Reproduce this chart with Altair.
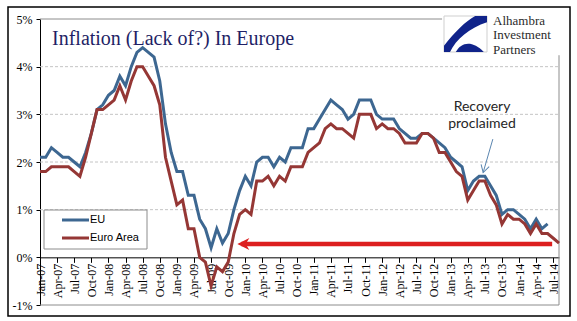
import json
import altair as alt
import pandas as pd

# ---------------- data ----------------
tick_labels = ["Jan-07", "Apr-07", "Jul-07", "Oct-07", "Jan-08", "Apr-08", "Jul-08", "Oct-08",
               "Jan-09", "Apr-09", "Jul-09", "Oct-09", "Jan-10", "Apr-10", "Jul-10", "Oct-10",
               "Jan-11", "Apr-11", "Jul-11", "Oct-11", "Jan-12", "Apr-12", "Jul-12", "Oct-12",
               "Jan-13", "Apr-13", "Jul-13", "Oct-13", "Jan-14", "Apr-14", "Jul-14"]

# monthly values, Jan-07 .. Aug-14
eu = [2.1, 2.1, 2.3, 2.2, 2.1, 2.1, 2.0, 1.9, 2.2, 2.6, 3.1, 3.2,
      3.4, 3.5, 3.8, 3.6, 4.0, 4.3, 4.4, 4.3, 4.2, 3.7, 2.8, 2.2,
      1.8, 1.8, 1.3, 1.3, 0.8, 0.6, 0.2, 0.6, 0.3, 0.5, 1.0, 1.4,
      1.7, 1.5, 2.0, 2.1, 2.1, 1.9, 2.1, 2.0, 2.3, 2.3, 2.3, 2.7,
      2.7, 2.9, 3.1, 3.3, 3.2, 3.1, 2.9, 3.0, 3.3, 3.3, 3.3, 3.0,
      2.9, 2.9, 2.9, 2.7, 2.6, 2.5, 2.5, 2.6, 2.6, 2.5, 2.4, 2.3,
      2.1, 2.0, 1.9, 1.4, 1.6, 1.7, 1.7, 1.5, 1.3, 0.9, 1.0, 1.0,
      0.9, 0.8, 0.6, 0.8, 0.6, 0.7, None, None]
euro_area = [1.8, 1.8, 1.9, 1.9, 1.9, 1.9, 1.8, 1.7, 2.1, 2.6, 3.1, 3.1,
             3.2, 3.3, 3.6, 3.3, 3.7, 4.0, 4.0, 3.8, 3.6, 3.2, 2.1, 1.6,
             1.1, 1.2, 0.6, 0.6, 0.0, -0.1, -0.6, -0.2, -0.3, -0.1, 0.5, 0.9,
             1.0, 0.9, 1.6, 1.6, 1.7, 1.5, 1.7, 1.6, 1.9, 1.9, 1.9, 2.2,
             2.3, 2.4, 2.7, 2.8, 2.7, 2.7, 2.6, 2.5, 3.0, 3.0, 3.0, 2.7,
             2.8, 2.7, 2.7, 2.6, 2.4, 2.4, 2.4, 2.6, 2.6, 2.5, 2.2, 2.2,
             2.0, 1.8, 1.7, 1.2, 1.4, 1.6, 1.6, 1.3, 1.1, 0.7, 0.9, 0.8,
             0.8, 0.7, 0.5, 0.7, 0.5, 0.5, 0.4, 0.3]
series_names = ["EU", "Euro Area"]
series_colors = ["#3d6791", "#953735"]
y_ticks = [-1, 0, 1, 2, 3, 4, 5]
grid_values = [1, 2, 3, 4]

# annotations (in data units: month index, percent)
red_arrow = {"x": 35.3, "x2": 89.8, "y": 0.28, "tip": 34.6}
recovery_text = ["Recovery", "proclaimed"]
recovery_pos = {"x": 77.5, "y": [3.07, 2.71]}
recovery_arrow = {"x": 79.4, "y": 2.48, "x2": 77.7, "y2": 1.78}
logo_lines = ["Alhambra", "Investment", "Partners"]

rows = []
for name, vals in zip(series_names, [eu, euro_area]):
    for i, v in enumerate(vals):
        rows.append({"m": i, "series": name, "value": v})
df = pd.DataFrame(rows)
n_months = len(euro_area) - 1  # 91 intervals

W, H = 519, 286
SERIF = "Liberation Serif"
SANS = "Liberation Sans"

xs = alt.Scale(domain=[0, n_months], nice=False, zero=False)
ys = alt.Scale(domain=[-1, 5], nice=False, zero=False)
color_scale = alt.Scale(domain=series_names, range=series_colors)

label_expr = json.dumps(tick_labels) + "[round(datum.value/3)]"
x_axis = alt.Axis(values=list(range(0, 91, 3)), labelExpr=label_expr, labelAngle=-90,
                  offset=-(H / 6.0), grid=False, domainColor="#000", tickColor="#000",
                  tickSize=5, labelPadding=1, labelFont=SERIF, labelFontSize=12,
                  labelColor="#000", title=None, labelOverlap=False, labelBound=False,
                  labelFlush=False)
y_axis = alt.Axis(values=y_ticks, labelExpr="datum.value + '%'", grid=False,
                  domainColor="#000", tickColor="#000", tickSize=4, labelPadding=4,
                  labelFont=SERIF, labelFontSize=12, labelColor="#000", title=None,
                  labelFlush=False)


def X(field):
    return alt.X(field, scale=xs, axis=x_axis)


def Y(field):
    return alt.Y(field, scale=ys, axis=y_axis)


one = pd.DataFrame({"a": [0]})

# frame & grid
frame = pd.DataFrame([
    {"x": 0, "x2": 70.5, "y": 5, "y2": 5},
    {"x": 0, "x2": n_months, "y": -1, "y2": -1},
    {"x": n_months, "x2": n_months, "y": -1, "y2": 4.24},
])
frame_layer = alt.Chart(frame).mark_rule(color="#8c8c8c", strokeWidth=1).encode(
    x=X("x:Q"), x2="x2:Q", y=Y("y:Q"), y2="y2:Q")
grid_layer = alt.Chart(pd.DataFrame({"y": grid_values, "x": 0, "x2": n_months})).mark_rule(
    color="#c4c4c4", strokeDash=[3, 2], strokeWidth=1).encode(
    x=X("x:Q"), x2="x2:Q", y=Y("y:Q"))

lines = alt.Chart(df).mark_line(strokeWidth=3).encode(
    x=X("m:Q"), y=Y("value:Q"),
    color=alt.Color("series:N", scale=color_scale, legend=None),
    detail="series:N")

# red arrow
ra = pd.DataFrame([red_arrow])
red_line = alt.Chart(ra).mark_rule(color="#dd1f1f", strokeWidth=4.5).encode(
    x=X("x:Q"), x2="x2:Q", y=Y("y:Q"))
red_head = alt.Chart(ra).mark_point(shape="M0,0 L2,-1 L1.4,0 L2,1 Z", filled=True,
                                    color="#dd1f1f", opacity=1, size=144).encode(
    x=X("tip:Q"), y=Y("y:Q"))

# recovery annotation
rt = pd.DataFrame({"t": recovery_text, "x": [recovery_pos["x"]] * 2, "y": recovery_pos["y"]})
rec_text = alt.Chart(rt).mark_text(font="Lato", fontSize=14, color="#262626",
                                   align="center", baseline="alphabetic").encode(
    x=X("x:Q"), y=Y("y:Q"), text="t:N")
rec = pd.DataFrame([recovery_arrow])
rec_line = alt.Chart(rec).mark_rule(color="#5b86b0", strokeWidth=1).encode(
    x=X("x:Q"), x2="x2:Q", y=Y("y:Q"), y2="y2:Q")
rec_head = alt.Chart(rec).mark_point(shape="M-0.7,-1.2 L0,0 L0.7,-1.2", filled=False,
                                     color="#5b86b0", strokeWidth=1, opacity=1, size=144,
                                     angle=16).encode(
    x=X("x2:Q"), y=Y("y2:Q"))

# legend (box + entries), in pixels
leg_box = alt.Chart(one).mark_rect(fill="white", stroke="#8c8c8c", strokeWidth=1).encode(
    x=alt.value(4), x2=alt.value(107), y=alt.value(191), y2=alt.value(230))
legend_layers = [leg_box]
for name, col, ypx in zip(series_names, series_colors, [201, 219]):
    legend_layers.append(alt.Chart(one).mark_rule(strokeWidth=3, color=col).encode(
        x=alt.value(22), x2=alt.value(49), y=alt.value(ypx)))
    legend_layers.append(alt.Chart(one).mark_text(
        font=SANS, fontSize=11, color="#000", align="left", baseline="middle", text=name).encode(
        x=alt.value(50), y=alt.value(ypx)))

# title
title = alt.Chart(one).mark_text(
    font=SERIF, fontSize=20, color="#1f1f66", align="left", baseline="alphabetic",
    text="Inflation (Lack of?) In Europe").encode(x=alt.value(12), y=alt.value(26))

# logo
logo_layers = [
    alt.Chart(one).mark_rect(fill="white", stroke="#cfcfcf", strokeWidth=1).encode(
        x=alt.value(404), x2=alt.value(447), y=alt.value(-3), y2=alt.value(33)),
    alt.Chart(one).mark_point(
        shape="M0.45,-0.84 L1,-0.84 L1,-0.55 C0.2,-0.3 -0.45,0.25 -0.72,0.84 L-1,0.84 L-1,0.55 C-0.5,-0.1 0,-0.6 0.45,-0.84 Z",
        filled=True, color="#10238a", opacity=1, size=1849).encode(x=alt.value(425.5), y=alt.value(15)),
    alt.Chart(one).mark_point(
        shape="M-0.45,0.84 C-0.2,0.35 0.35,0.3 0.85,0.84 Z",
        filled=True, color="#10238a", opacity=1, size=1849).encode(x=alt.value(425.5), y=alt.value(15)),
    alt.Chart(one).mark_text(
        font=SERIF, fontSize=13, color="#2b2b2b", align="left", baseline="alphabetic",
        text=logo_lines, lineHeight=14.5).encode(x=alt.value(453), y=alt.value(5.5)),
]

border = alt.Chart(one).mark_rect(fill=None, stroke="#000", strokeWidth=1.5).encode(
    x=alt.value(-32), x2=alt.value(530), y=alt.value(-12), y2=alt.value(297))

chart = alt.layer(
    grid_layer, frame_layer, lines, red_line, red_head, rec_line, rec_head, rec_text,
    *legend_layers, title, *logo_layers, border
).properties(
    width=W, height=H,
    autosize=alt.AutoSizeParams(type="none"),
    padding={"left": 40, "top": 19, "right": 18, "bottom": 16},
    background="white",
).configure_view(strokeWidth=0)

chart.save("out.html", embed_options={"renderer": "svg", "actions": False})
